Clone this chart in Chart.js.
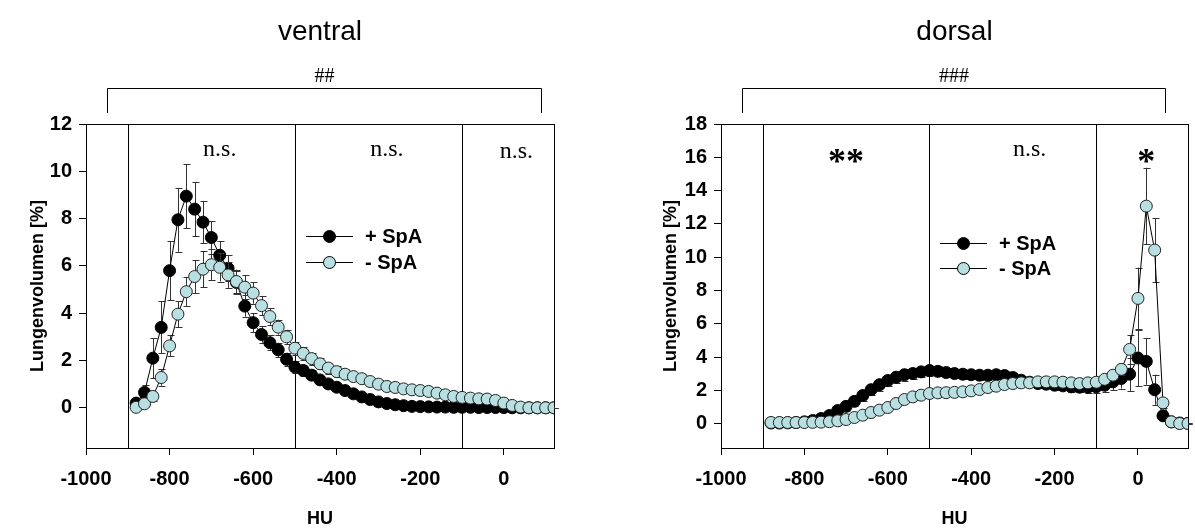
<!DOCTYPE html>
<html>
<head>
<meta charset="utf-8">
<script src="https://cdn.jsdelivr.net/npm/chart.js@4.4.1/dist/chart.umd.min.js"></script>
<style>
  html, body { margin: 0; padding: 0; background: #fff; }
  #wrap { position: relative; width: 1195px; height: 530px; }
  .box { position: absolute; top: 0; height: 530px; }
</style>
</head>
<body>
<div id="wrap">
  <div class="box" style="left:0;width:597px"><canvas id="ventral" width="597" height="530"></canvas></div>
  <div class="box" style="left:597px;width:598px"><canvas id="dorsal" width="598" height="530"></canvas></div>
</div>
<script>
// HU bins (x values)
const HU = [
  -880, -860, -840, -820, -800, -780, -760, -740, -720, -700,
  -680, -660, -640, -620, -600, -580, -560, -540, -520, -500,
  -480, -460, -440, -420, -400, -380, -360, -340, -320, -300,
  -280, -260, -240, -220, -200, -180, -160, -140, -120, -100,
  -80, -60, -40, -20, 0, 20, 40, 60, 80, 100, 120
];

// ventral, + SpA (black)
const ventralPlus = [
  0.2, 0.65, 2.1, 3.4, 5.8, 7.95, 8.95, 8.4, 7.85, 7.2,
  6.45, 5.9, 5.3, 4.3, 3.6, 3.1, 2.75, 2.45, 2.05, 1.72,
  1.58, 1.38, 1.18, 1.01, 0.87, 0.73, 0.59, 0.46, 0.35, 0.25,
  0.18, 0.13, 0.09, 0.06, 0.05, 0.04, 0.03, 0.03, 0.02, 0.02,
  0.02, 0.01, 0.01, 0.01, 0.01, 0, 0, 0, 0, 0, 0
];
const ventralPlusErr = [
  0.1, 0.3, 0.85, 1.1, 1.25, 1.35, 1.35, 1.15, 0.9, 0.7,
  0.6, 0.55, 0.5, 0.45, 0.4, 0.35, 0.32, 0.3, 0.28, 0.25,
  0.22, 0.2, 0.18, 0.17, 0.15, 0.14, 0.13, 0.12, 0.11, 0.1,
  0.09, 0.08, 0.07, 0.06, 0.05, 0.05, 0.04, 0.04, 0.03, 0.03,
  0.03, 0.02, 0.02, 0.02, 0.02, 0.01, 0.01, 0.01, 0.01, 0.01, 0.01
];

// ventral, - SpA (light cyan)
const ventralMinus = [
  0.02, 0.17, 0.48, 1.28, 2.62, 3.96, 4.91, 5.55, 5.86, 6.05,
  5.94, 5.62, 5.34, 5.1, 4.85, 4.32, 3.86, 3.41, 3.0, 2.52,
  2.3, 2.08, 1.86, 1.68, 1.53, 1.42, 1.32, 1.23, 1.11, 1.0,
  0.9, 0.86, 0.8, 0.76, 0.73, 0.69, 0.62, 0.55, 0.48, 0.44,
  0.41, 0.38, 0.37, 0.31, 0.2, 0.1, 0.03, 0, 0, 0, 0
];
const ventralMinusErr = [
  0.05, 0.1, 0.2, 0.35, 0.45, 0.55, 0.6, 0.7, 0.75, 0.65,
  0.6, 0.55, 0.5, 0.5, 0.45, 0.4, 0.35, 0.32, 0.3, 0.28,
  0.26, 0.25, 0.24, 0.23, 0.22, 0.21, 0.2, 0.2, 0.19, 0.18,
  0.17, 0.16, 0.16, 0.15, 0.15, 0.14, 0.13, 0.12, 0.12, 0.11,
  0.1, 0.1, 0.09, 0.08, 0.06, 0.04, 0.02, 0.01, 0.01, 0.01, 0.01
];

// dorsal, + SpA (black)
const dorsalPlus = [
  0.05, 0.05, 0.06, 0.08, 0.12, 0.2, 0.32, 0.5, 0.8, 1.05,
  1.35, 1.7, 2.05, 2.35, 2.6, 2.8, 2.95, 3.02, 3.12, 3.2,
  3.15, 3.08, 3.02, 2.98, 2.95, 2.92, 2.92, 2.95, 2.9, 2.78,
  2.62, 2.5, 2.42, 2.38, 2.32, 2.28, 2.22, 2.2, 2.2, 2.22,
  2.32, 2.52, 2.72, 2.98, 3.95, 3.75, 2.05, 0.48, 0.12, 0.05, 0.03
];
const dorsalPlusErr = [
  0.03, 0.03, 0.04, 0.05, 0.06, 0.08, 0.1, 0.15, 0.2, 0.25,
  0.3, 0.3, 0.32, 0.35, 0.35, 0.35, 0.35, 0.35, 0.32, 0.3,
  0.3, 0.28, 0.28, 0.27, 0.27, 0.26, 0.26, 0.26, 0.26, 0.25,
  0.25, 0.25, 0.25, 0.25, 0.26, 0.27, 0.28, 0.3, 0.32, 0.35,
  0.4, 0.5, 0.6, 1.0, 1.7, 1.4, 0.9, 0.25, 0.06, 0.03, 0.02
];

// dorsal, - SpA (light cyan)
const dorsalMinus = [
  0.08, 0.08, 0.08, 0.08, 0.08, 0.09, 0.1, 0.13, 0.18, 0.26,
  0.38, 0.52, 0.68, 0.82, 0.98, 1.22, 1.46, 1.62, 1.72, 1.82,
  1.86, 1.87, 1.89, 1.92, 1.98, 2.06, 2.18, 2.26, 2.36, 2.42,
  2.46, 2.46, 2.52, 2.52, 2.52, 2.5, 2.46, 2.42, 2.46, 2.5,
  2.67, 2.92, 3.27, 4.47, 7.53, 13.07, 10.43, 1.26, 0.12, 0.02, 0.02
];
const dorsalMinusErr = [
  0.02, 0.02, 0.02, 0.02, 0.02, 0.03, 0.03, 0.04, 0.05, 0.06,
  0.07, 0.08, 0.09, 0.1, 0.1, 0.11, 0.12, 0.12, 0.12, 0.12,
  0.12, 0.12, 0.12, 0.12, 0.12, 0.12, 0.12, 0.12, 0.12, 0.12,
  0.12, 0.12, 0.12, 0.12, 0.12, 0.13, 0.14, 0.15, 0.16, 0.18,
  0.2, 0.25, 0.35, 0.86, 1.85, 2.3, 1.9, 0.3, 0.05, 0.02, 0.02
];

const xTicks = [-1000, -800, -600, -400, -200, 0];
const ventralTicks = [0, 2, 4, 6, 8, 10, 12];
const dorsalTicks = [0, 2, 4, 6, 8, 10, 12, 14, 16, 18];
const dividers = [-900, -500, -100];
const seriesNames = ['+ SpA', '- SpA'];

const CYAN = '#b8e0e2';
const SANS = '"Liberation Sans", Arial, sans-serif';
const SERIF = '"Liberation Serif", "Times New Roman", serif';

// separators, frame, error bars and all the annotation text
function makeDecor(cfg) {
  return {
    id: 'decor',
    beforeDatasetsDraw(chart) {
      const { ctx, chartArea: a, scales: { x } } = chart;
      ctx.save();
      ctx.strokeStyle = '#000';
      ctx.lineWidth = 1;
      ctx.beginPath();
      dividers.forEach(v => {
        const px = Math.round(x.getPixelForValue(v)) + 0.5;
        ctx.moveTo(px, a.top);
        ctx.lineTo(px, a.bottom);
      });
      ctx.moveTo(a.left, Math.round(a.top) + 0.5);
      ctx.lineTo(a.right, Math.round(a.top) + 0.5);
      ctx.moveTo(Math.round(a.right) + 0.5, a.top);
      ctx.lineTo(Math.round(a.right) + 0.5, a.bottom);
      ctx.stroke();
      ctx.restore();
    },
    beforeDatasetDraw(chart, args) {
      const ds = chart.data.datasets[args.index];
      if (!ds.err) return;
      const { ctx, scales: { x, y } } = chart;
      ctx.save();
      ctx.strokeStyle = '#333';
      ctx.lineWidth = 1;
      ctx.beginPath();
      ds.data.forEach((p, i) => {
        const e = ds.err[i];
        const px = Math.round(x.getPixelForValue(p.x)) + 0.5;
        const yt = y.getPixelForValue(p.y + e);
        const yb = y.getPixelForValue(p.y - e);
        ctx.moveTo(px, yt); ctx.lineTo(px, yb);
        ctx.moveTo(px - 3, Math.round(yt) + 0.5); ctx.lineTo(px + 4, Math.round(yt) + 0.5);
        ctx.moveTo(px - 3, Math.round(yb) + 0.5); ctx.lineTo(px + 4, Math.round(yb) + 0.5);
      });
      ctx.stroke();
      ctx.restore();
    },
    afterDraw(chart) {
      const { ctx, chartArea: a, scales: { x } } = chart;
      const cx = (a.left + a.right) / 2;
      ctx.save();
      ctx.fillStyle = '#000';
      ctx.strokeStyle = '#000';
      ctx.lineWidth = 1;
      ctx.textAlign = 'center';
      ctx.textBaseline = 'middle';

      // panel title
      ctx.font = '28px ' + SANS;
      ctx.fillText(cfg.title, cx, 32);

      // bracket with significance mark
      const bx1 = Math.round(x.getPixelForValue(cfg.bracket[0])) + 0.5;
      const bx2 = Math.round(x.getPixelForValue(cfg.bracket[1])) + 0.5;
      ctx.beginPath();
      ctx.moveTo(bx1, 113); ctx.lineTo(bx1, 88.5); ctx.lineTo(bx2, 88.5); ctx.lineTo(bx2, 113);
      ctx.stroke();
      ctx.font = '20px ' + SERIF;
      ctx.fillText(cfg.bracketText, (bx1 + bx2) / 2, 77);

      // region labels
      cfg.regions.forEach(r => {
        ctx.font = r.font;
        ctx.fillText(r.text, x.getPixelForValue(r.hu), a.top + r.dy);
      });

      // legend
      cfg.legend.rows.forEach((row, i) => {
        const ly = Math.round(cfg.legend.top + i * cfg.legend.gap) + 0.5;
        const lx = a.left + cfg.legend.left;
        ctx.beginPath();
        ctx.moveTo(lx, ly); ctx.lineTo(lx + 47, ly);
        ctx.stroke();
        ctx.beginPath();
        ctx.arc(lx + 23.5, ly, 6, 0, Math.PI * 2);
        ctx.fillStyle = row.color;
        ctx.fill();
        ctx.stroke();
        ctx.fillStyle = '#000';
        ctx.textAlign = 'left';
        ctx.font = 'bold 20px ' + SANS;
        ctx.fillText(row.label, lx + 59, ly + 1);
        ctx.textAlign = 'center';
      });

      // axis titles
      ctx.font = 'bold 18px ' + SANS;
      ctx.fillText('HU', cx, 519);
      ctx.translate(a.left - cfg.yTitleOffset, (a.top + a.bottom) / 2);
      ctx.rotate(-Math.PI / 2);
      ctx.fillText('Lungenvolumen [%]', 0, 0);
      ctx.restore();
    }
  };
}

function makeChart(id, plus, plusErr, minus, minusErr, yMin, yMax, yTicks, padLeft, yWidth, padRight, cfg) {
  const tickFont = { family: SANS, weight: 'bold', size: 20 };
  return new Chart(document.getElementById(id), {
    type: 'line',
    data: {
      datasets: [
        {
          label: seriesNames[0],
          data: HU.map((h, i) => ({ x: h, y: plus[i] })),
          err: plusErr,
          order: 2,
          borderColor: '#000',
          borderWidth: 1,
          pointRadius: 6,
          pointBackgroundColor: '#000',
          pointBorderColor: '#000',
          pointBorderWidth: 1,
          tension: 0
        },
        {
          label: seriesNames[1],
          data: HU.map((h, i) => ({ x: h, y: minus[i] })),
          err: minusErr,
          order: 1,
          borderColor: '#000',
          borderWidth: 1,
          pointRadius: 6,
          pointBackgroundColor: CYAN,
          pointBorderColor: '#222',
          pointBorderWidth: 1,
          tension: 0
        }
      ]
    },
    options: {
      responsive: false,
      animation: false,
      layout: { padding: { left: padLeft, top: 124, right: padRight, bottom: 0 } },
      plugins: { legend: { display: false }, tooltip: { enabled: false } },
      scales: {
        x: {
          type: 'linear',
          min: -1000,
          max: 120,
          afterBuildTicks: s => { s.ticks = xTicks.map(v => ({ value: v })); },
          afterFit: s => { s.height = 82; },
          ticks: { font: tickFont, color: '#000', padding: 12, maxRotation: 0, autoSkip: false,
                   callback: v => String(v) },
          grid: { drawOnChartArea: false, drawTicks: true, tickLength: 7, color: '#000' },
          border: { color: '#000' }
        },
        y: {
          type: 'linear',
          min: yMin,
          max: yMax,
          afterBuildTicks: s => { s.ticks = yTicks.map(v => ({ value: v })); },
          afterFit: s => { s.width = yWidth; },
          ticks: { font: tickFont, color: '#000', padding: 7, callback: v => String(v) },
          grid: { drawOnChartArea: false, drawTicks: true, tickLength: 7, color: '#000' },
          border: { color: '#000' }
        }
      }
    },
    plugins: [makeDecor(cfg)]
  });
}

makeChart('ventral', ventralPlus, ventralPlusErr, ventralMinus, ventralMinusErr,
  -1.7, 12, ventralTicks, 0, 86, 43, {
    title: 'ventral',
    bracket: [-950, 90],
    bracketText: '##',
    regions: [
      { hu: -680, text: 'n.s.', dy: 26, font: '24px ' + SERIF },
      { hu: -280, text: 'n.s.', dy: 26, font: '24px ' + SERIF },
      { hu: 30, text: 'n.s.', dy: 28, font: '24px ' + SERIF }
    ],
    legend: { left: 220, top: 236, gap: 26, rows: [
      { label: seriesNames[0], color: '#000' },
      { label: seriesNames[1], color: CYAN }
    ] },
    yTitleOffset: 48
  });

makeChart('dorsal', dorsalPlus, dorsalPlusErr, dorsalMinus, dorsalMinusErr,
  -1.45, 18, dorsalTicks, 0, 124, 4, {
    title: 'dorsal',
    bracket: [-950, 65],
    bracketText: '###',
    regions: [
      { hu: -700, text: '**', dy: 40, font: 'bold 36px ' + SERIF },
      { hu: -260, text: 'n.s.', dy: 26, font: '24px ' + SERIF },
      { hu: 20, text: '*', dy: 40, font: 'bold 36px ' + SERIF }
    ],
    legend: { left: 219, top: 243, gap: 25, rows: [
      { label: seriesNames[0], color: '#000' },
      { label: seriesNames[1], color: CYAN }
    ] },
    yTitleOffset: 50
  });
</script>
</body>
</html>
